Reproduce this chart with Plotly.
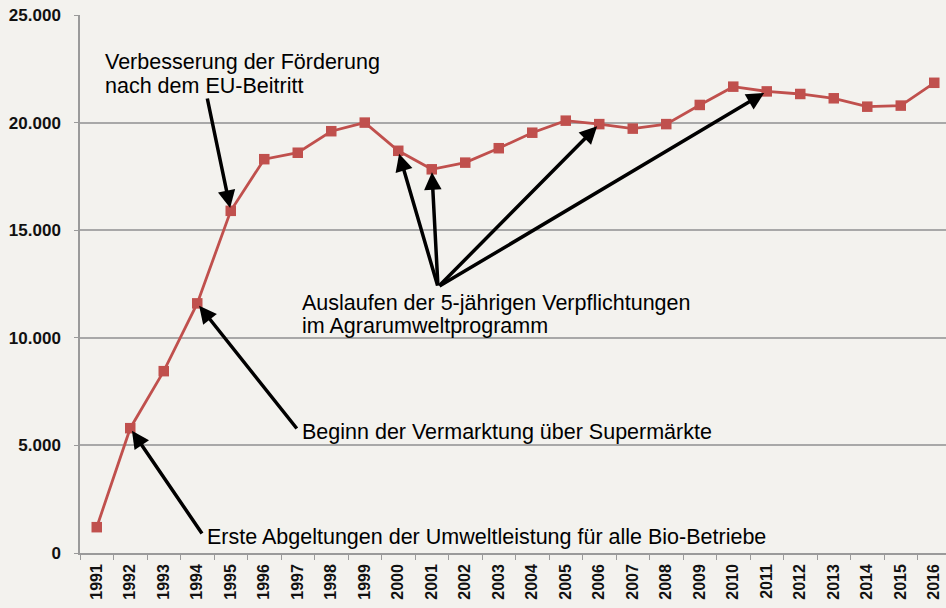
import plotly.graph_objects as go

years = [str(y) for y in range(1991, 2017)]
betriebe = [1200, 5800, 8450, 11600, 15900, 18300, 18600, 19600, 20000, 18690,
            17830, 18140, 18810, 19530, 20090, 19930, 19720, 19930, 20820, 21670,
            21450, 21330, 21130, 20740, 20790, 21850]
ytick_vals = [0, 5000, 10000, 15000, 20000, 25000]
ytick_text = ["0", "5.000", "10.000", "15.000", "20.000", "25.000"]

BG = "#f3f2ee"
RED = "#c0504d"
FONT = "Liberation Sans"

fig = go.Figure()
fig.add_trace(go.Scatter(
    x=years, y=betriebe, mode="lines+markers",
    line=dict(color=RED, width=2.8),
    marker=dict(symbol="square", size=10.5, color=RED),
    showlegend=False, hoverinfo="x+y"))

# plot geometry (pixels)
L, T, R, B = 80, 15, 946, 553
W, H = R - L, B - T
n_span = 25.85  # categories visible (range -0.5 .. 25.35)

def px(i):
    return L + (i + 0.5) * W / n_span

def py(v):
    return B - v / 25000 * H

def pxp(x):
    return (x - L) / W

def pyp(y):
    return (B - y) / H

annotations = []

def arrow(year, tail):
    i = years.index(year)
    v = betriebe[i]
    annotations.append(dict(
        x=i, y=v, xref="x", yref="y", text="", showarrow=True,
        ax=tail[0] - px(i), ay=tail[1] - py(v), axref="pixel", ayref="pixel",
        arrowhead=2, arrowsize=1.0, arrowwidth=3.5, arrowcolor="#000000",
        standoff=3))

arrow("1995", (207, 97))
arrow("1994", (298, 430))
arrow("1992", (203, 535))
for yr in ["2000", "2001", "2006", "2011"]:
    arrow(yr, (438, 287))

def label(text, x, y):
    annotations.append(dict(
        x=pxp(x), y=pyp(y), xref="paper", yref="paper", text=text,
        showarrow=False, xanchor="left", yanchor="middle",
        font=dict(family=FONT, size=21.5, color="#000000")))

label("Verbesserung der Förderung", 103, 62)
label("nach dem EU-Beitritt", 103, 86)
label("Auslaufen der 5-jährigen Verpflichtungen", 300, 303)
label("im Agrarumweltprogramm", 300, 326)
label("Beginn der Vermarktung über Supermärkte", 300, 432)
label("Erste Abgeltungen der Umweltleistung für alle Bio-Betriebe", 205, 537)

fig.update_layout(
    width=946, height=608,
    margin=dict(l=L, r=946 - R, t=T, b=608 - B, pad=0),
    paper_bgcolor=BG, plot_bgcolor=BG,
    annotations=annotations,
    xaxis=dict(
        type="category", range=[-0.5, n_span - 0.5], automargin=False,
        tickson="boundaries", ticks="outside", ticklen=5, tickcolor="#9a9a9a",
        showline=True, linecolor="#9a9a9a", linewidth=1.5,
        showgrid=False, tickangle=-90,
        tickfont=dict(family=FONT, size=16, color="#111111", weight="bold"),
        ticklabelstandoff=3),
    yaxis=dict(
        range=[0, 25000], tickvals=ytick_vals, ticktext=ytick_text,
        automargin=False,
        ticks="outside", ticklen=4, tickcolor="#9a9a9a",
        showline=True, linecolor="#9a9a9a", linewidth=1.5,
        showgrid=True, gridcolor="#a8a8a8", gridwidth=1.5,
        zeroline=False,
        tickfont=dict(family=FONT, size=17, color="#111111", weight="bold"),
        ticklabelstandoff=10),
)

fig.write_html(
    "out.html",
    config={"displayModeBar": False},
    post_script="document.body.style.margin='0';document.body.style.overflow='hidden';"
                "document.body.style.background='" + BG + "';")
